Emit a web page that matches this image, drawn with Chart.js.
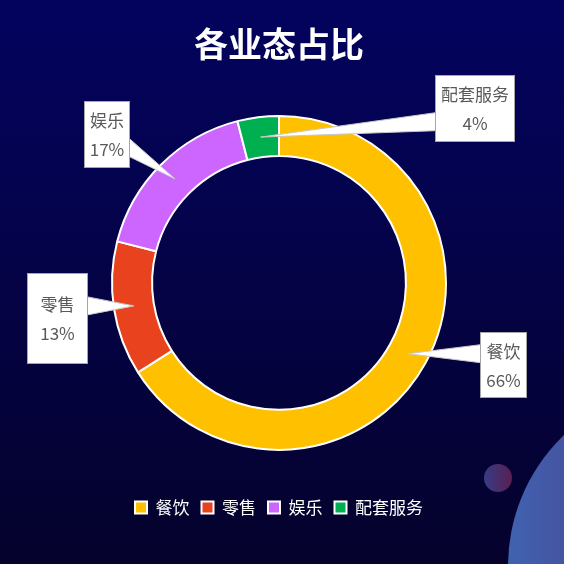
<!DOCTYPE html>
<html>
<head>
<meta charset="utf-8">
<script src="https://cdn.jsdelivr.net/npm/chart.js@4.4.1/dist/chart.umd.min.js"></script>
<style>
  html, body { margin: 0; padding: 0; background: #03034a; }
  #wrap { width: 564px; height: 564px; }
</style>
</head>
<body>
<div id="wrap"><canvas id="pie" width="564" height="564"></canvas></div>
<script>
const chartTitle = '各业态占比';
const categories = ['餐饮', '零售', '娱乐', '配套服务'];
const shares = [66, 13, 17, 4];
const percentLabels = ['66%', '13%', '17%', '4%'];
const sliceColors = ['#FFC000', '#E8431E', '#CC66FF', '#00B050'];

const FONT = '"Microsoft YaHei", "Noto Sans CJK SC", "Noto Sans", sans-serif';

// background gradient + the two decorative circles
const backdrop = {
    id: 'backdrop',
    beforeDraw(chart) {
        const { ctx, width, height } = chart;
        ctx.save();
        const bg = ctx.createLinearGradient(0, 0, 0, height);
        bg.addColorStop(0, '#03035f');
        bg.addColorStop(1, '#05022c');
        ctx.fillStyle = bg;
        ctx.fillRect(0, 0, width, height);

        let g = ctx.createLinearGradient(484, 0, 512, 0);
        g.addColorStop(0, 'rgba(70,80,160,0.75)');
        g.addColorStop(1, 'rgba(120,40,90,0.75)');
        ctx.fillStyle = g;
        ctx.beginPath();
        ctx.arc(498, 478, 14, 0, Math.PI * 2);
        ctx.fill();

        g = ctx.createLinearGradient(508, 0, 600, 0);
        g.addColorStop(0, '#3f62b0');
        g.addColorStop(1, '#4a4c98');
        ctx.fillStyle = g;
        ctx.beginPath();
        ctx.arc(689, 566, 181, 0, Math.PI * 2);
        ctx.fill();
        ctx.restore();
    }
};

// data callouts: white box with a pointer into the ring
const callouts = {
    id: 'callouts',
    afterDatasetsDraw(chart, args, opts) {
        const { ctx } = chart;
        const meta = chart.getDatasetMeta(0);
        ctx.save();
        meta.data.forEach((arc, i) => {
            const p = opts.boxes[i];
            const R = arc.outerRadius;
            const mid = (arc.startAngle + arc.endAngle) / 2;
            const rr = (arc.innerRadius + arc.outerRadius) / 2;
            const tipX = arc.x + Math.cos(mid) * rr;
            const tipY = arc.y + Math.sin(mid) * rr;
            const cx = arc.x + p.dx * R;
            const cy = arc.y + p.dy * R;
            const left = Math.round(cx - p.w / 2) + 0.5;
            const top = Math.round(cy - p.h / 2) + 0.5;
            const right = left + p.w;
            const bottom = top + p.h;

            const baseY = Math.min(Math.max(tipY, top + p.h * 0.3), bottom - p.h * 0.3);
            const edgeX = tipX < left ? left : right;
            ctx.beginPath();
            ctx.moveTo(edgeX, baseY - 9);
            ctx.lineTo(tipX, tipY);
            ctx.lineTo(edgeX, baseY + 9);
            ctx.closePath();
            ctx.fillStyle = '#ffffff';
            ctx.fill();
            ctx.strokeStyle = '#c8c8c8';
            ctx.lineWidth = 1;
            ctx.stroke();

            ctx.fillStyle = '#ffffff';
            ctx.fillRect(left, top, p.w, p.h);
            ctx.strokeStyle = '#a6a6a6';
            ctx.strokeRect(left, top, p.w, p.h);

            ctx.fillStyle = '#595959';
            ctx.font = '17px ' + FONT;
            ctx.textAlign = 'center';
            ctx.textBaseline = 'middle';
            const mx = left + p.w / 2;
            const my = top + p.h / 2;
            ctx.fillText(categories[i], mx, my - 13.5);
            ctx.fillText(percentLabels[i], mx, my + 15.5);
        });
        ctx.restore();
    }
};

new Chart(document.getElementById('pie'), {
    type: 'doughnut',
    data: {
        labels: categories,
        datasets: [{
            data: shares,
            backgroundColor: sliceColors,
            borderColor: '#ffffff',
            borderWidth: 2,
            radius: 167,
            cutout: '76%'
        }]
    },
    options: {
        responsive: false,
        animation: false,
        layout: { padding: { left: 0, right: 6, top: 0, bottom: 38 } },
        plugins: {
            title: {
                display: true,
                text: chartTitle,
                color: '#ffffff',
                font: { family: FONT, size: 34, weight: 'bold' },
                padding: { top: 24, bottom: 14 }
            },
            legend: {
                position: 'bottom',
                labels: {
                    color: '#ffffff',
                    font: { family: FONT, size: 17 },
                    boxWidth: 12,
                    boxHeight: 12,
                    padding: 12
                }
            },
            tooltip: { enabled: false },
            callouts: {
                boxes: [
                    { dx: 1.34, dy: 0.49, w: 46, h: 65 },
                    { dx: -1.33, dy: 0.21, w: 60, h: 90 },
                    { dx: -1.03, dy: -0.89, w: 45, h: 66 },
                    { dx: 1.17, dy: -1.05, w: 79, h: 66 }
                ]
            }
        }
    },
    plugins: [backdrop, callouts]
});
</script>
</body>
</html>
